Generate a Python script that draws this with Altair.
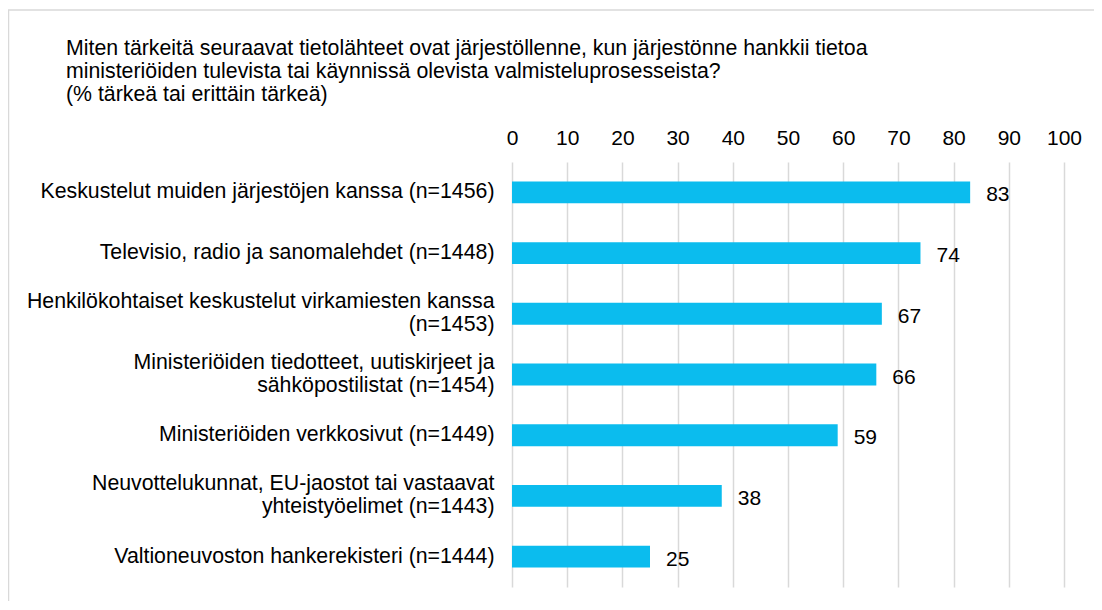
import altair as alt
import pandas as pd

categories = [
    "Keskustelut muiden järjestöjen kanssa (n=1456)",
    "Televisio, radio ja sanomalehdet (n=1448)",
    "Henkilökohtaiset keskustelut virkamiesten kanssa|(n=1453)",
    "Ministeriöiden tiedotteet, uutiskirjeet ja|sähköpostilistat (n=1454)",
    "Ministeriöiden verkkosivut (n=1449)",
    "Neuvottelukunnat, EU-jaostot tai vastaavat|yhteistyöelimet (n=1443)",
    "Valtioneuvoston hankerekisteri (n=1444)",
]
values = [83, 74, 67, 66, 59, 38, 25]
x_ticks = [0, 10, 20, 30, 40, 50, 60, 70, 80, 90, 100]
title_lines = [
    "Miten tärkeitä seuraavat tietolähteet ovat järjestöllenne, kun järjestönne hankkii tietoa",
    "ministeriöiden tulevista tai käynnissä olevista valmisteluprosesseista?",
    "(% tärkeä tai erittäin tärkeä)",
]

df = pd.DataFrame({"cat": categories, "val": values})
FONT = "Liberation Sans"

x_enc = alt.X(
    "val:Q",
    scale=alt.Scale(domain=[0, 100], nice=False),
    axis=alt.Axis(
        orient="top", values=x_ticks, title=None, domain=False, ticks=False,
        labelFontSize=21, labelFont=FONT, labelColor="#000000", labelPadding=14,
        labelFlush=False, labelOverlap=False,
        grid=True, gridColor="#d9d9d9", gridWidth=1.5,
    ),
)
y_enc = alt.Y(
    "cat:N",
    sort=categories,
    scale=alt.Scale(paddingInner=0.64, paddingOuter=0.32),
    axis=alt.Axis(
        title=None, domain=False, ticks=False, grid=False,
        labelFontSize=21.3, labelFont=FONT, labelColor="#000000", labelPadding=18,
        labelLimit=600, labelLineHeight=23, labelAlign="right",
        labelExpr="split(datum.label, '|')",
        labelOffset={"expr": "indexof(datum.value, '|') >= 0 ? -11.5 : 0"},
    ),
)

base = alt.Chart(df)
bars = base.mark_bar(color="#0BBCEE").encode(x=x_enc, y=y_enc)
labels = base.mark_text(
    align="left", baseline="middle", dx=16, dy=3, fontSize=21, font=FONT, color="#000000"
).encode(x="val:Q", y=alt.Y("cat:N", sort=categories), text="val:Q")

border = alt.Chart(pd.DataFrame({"b": [0]})).mark_rect(
    fill=None, stroke="#d9d9d9", strokeWidth=1.5
).encode(
    x=alt.value(-503.5), x2=alt.value(700), y=alt.value(-152), y2=alt.value(700)
)

chart = alt.layer(border, bars, labels).properties(
    width=552,
    height=425,
    padding={"left": 504, "top": 154, "right": 30, "bottom": 14},
    autosize=alt.AutoSizeParams(type="none"),
    title=alt.TitleParams(
        text=title_lines, anchor="start", frame="group", dx=-446, offset=0, dy=96,
        fontSize=21.3, font=FONT, fontWeight="normal", color="#000000", lineHeight=23,
    ),
).configure_view(stroke=None)

chart.save("out.html", embed_options={"renderer": "svg", "actions": False})
